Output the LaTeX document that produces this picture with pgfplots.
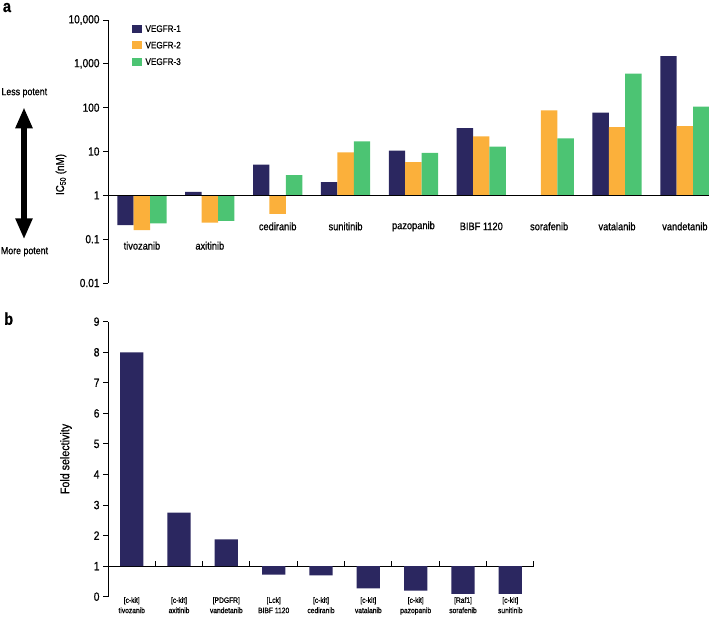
\documentclass[border=0pt]{standalone}
\usepackage{pgfplots}
\pgfplotsset{compat=1.18}
\usepackage{fontspec}
\setmainfont{Liberation Sans}[FakeStretch=0.86, FakeBold=0.8]
\usetikzlibrary{arrows.meta}
\definecolor{vone}{HTML}{2B2760}
\definecolor{vtwo}{HTML}{FBB03B}
\definecolor{vthree}{HTML}{4CC473}

\pgfplotsset{
  sq legend/.style={legend image code/.code={\fill[##1,draw=none] (0bp,-4bp) rectangle (10bp,4bp);}},
}

\begin{document}
\begin{tikzpicture}
\path[use as bounding box] (0,0) rectangle (709bp,-617bp);

% ---- panel a: IC50 per receptor, log scale, bars from 1
\begin{axis}[
  at={(108bp,-283bp)}, anchor=south west,
  scale only axis, width=601bp, height=263bp,
  clip=false,
  ymode=log, log origin=0,
  ymin=0.01, ymax=10000,
  xmin=-0.5, xmax=8.355,
  axis y line=left, axis x line=none,
  axis line style={-, line width=1bp},
  xtick=\empty,
  ytick={0.01,0.1,1,10,100,1000,10000},
  yticklabels={0.01,0.1,1,10,100,{1,000},{10,000}},
  yminorticks=false,
  tick align=outside, major tick length=5bp,
  ytick style={line width=1bp, black},
  tick label style={font=\fontsize{11.8}{11.8}\selectfont},
  /pgf/number format/assume math mode=true,
  ybar=0pt, bar width=0.2416,
  legend style={at={(0.0404,0.982)}, anchor=north west, draw=none, fill=none,
    font=\fontsize{9.5}{9.5}\selectfont, inner sep=0pt, row sep=8.5bp, column sep=3bp,
    nodes={inner sep=0pt, text height=7bp, text depth=1bp}},
  legend cell align=left,
]
\addplot[fill=vone, draw=none, sq legend] coordinates {(0,0.21) (1,1.2) (2,5) (3,2) (4,10.5) (5,34) (7,77) (8,1500)};
\addplot[fill=vtwo, draw=none, sq legend] coordinates {(0,0.16) (1,0.24) (2,0.38) (3,9.5) (4,5.7) (5,22) (6,87) (7,36) (8,38)};
\addplot[fill=vthree, draw=none, sq legend] coordinates {(0,0.23) (1,0.26) (2,2.9) (3,17) (4,9.3) (5,13) (6,20) (7,600) (8,105)};
\legend{VEGFR-1, VEGFR-2, VEGFR-3}
\draw[line width=1bp] (axis cs:-0.5,1) -- (axis cs:8.355,1);
\begin{scope}[every node/.style={font=\fontsize{10.8}{10.8}\selectfont}]
\node at (axis cs:0,0.071) {tivozanib};
\node at (axis cs:1,0.071) {axitinib};
\node at (axis cs:2,0.196) {cediranib};
\node at (axis cs:3,0.196) {sunitinib};
\node at (axis cs:4,0.196) {pazopanib};
\node at (axis cs:5,0.196) {BIBF 1120};
\node at (axis cs:6,0.196) {sorafenib};
\node at (axis cs:7,0.196) {vatalanib};
\node at (axis cs:8,0.196) {vandetanib};
\end{scope}
\end{axis}

\node[font=\fontsize{17}{17}\selectfont\bfseries, inner sep=0pt] at (7bp,-7.5bp) {a};
\node[rotate=90, font=\fontsize{11.5}{11.5}\selectfont] at (61bp,-174.5bp) {IC\textsubscript{50} (nM)};
\node[font=\fontsize{10.3}{10.3}\selectfont] at (24.3bp,-92.7bp) {Less potent};
\node[font=\fontsize{10.3}{10.3}\selectfont] at (24.5bp,-251.7bp) {More potent};
\draw[line width=6bp, {Triangle[width=16bp,length=21bp]}-{Triangle[width=16bp,length=21bp]}]
  (24bp,-107.3bp) -- (24bp,-239.3bp);

% ---- panel b: fold selectivity, bars from 1
\begin{axis}[
  at={(108bp,-596.7bp)}, anchor=south west,
  scale only axis, width=426bp, height=275bp,
  clip=false,
  xmin=-0.5, xmax=8.5,
  ymin=-1, ymax=8,
  y filter/.expression={y-1},
  axis y line=left, axis x line=middle,
  axis line style={-, line width=1bp},
  xtick=\empty,
  ytick={-1,0,...,8},
  yticklabels={0,1,2,3,4,5,6,7,8,9},
  ytick align=outside, major tick length=5bp,
  tick style={line width=1bp, black},
  tick label style={font=\fontsize{12}{12}\selectfont},
  ybar, bar width=0.49,
]
\addplot[fill=vone, draw=none] coordinates {(0,8.0) (1,2.75) (2,1.88) (3,0.72) (4,0.7) (5,0.27) (6,0.2) (7,0.09) (8,0.09)};
% short upward ticks between categories on the baseline
\pgfplotsinvokeforeach{0.5,1.5,2.5,3.5,4.5,5.5,6.5,7.5,8.5}{
  \draw[line width=1bp] (axis cs:#1,0) -- ++(0pt,5bp);
}
\end{axis}

\begin{scope}[every node/.style={font=\fontsize{7.8}{10.3}\selectfont, align=center, anchor=north, inner sep=0pt}]
\node at (131.7bp,-597bp) {[c-kit]\\tivozanib};
\node at (179.0bp,-597bp) {[c-kit]\\axitinib};
\node at (226.3bp,-597bp) {[PDGFR]\\vandetanib};
\node at (273.7bp,-597bp) {[Lck]\\BIBF 1120};
\node at (321.0bp,-597bp) {[c-kit]\\cediranib};
\node at (368.3bp,-597bp) {[c-kit]\\vatalanib};
\node at (415.7bp,-597bp) {[c-kit]\\pazopanib};
\node at (463.0bp,-597bp) {[Raf1]\\sorafenib};
\node at (510.3bp,-597bp) {[c-kit]\\sunitinib};
\end{scope}
\node[font=\fontsize{17}{17}\selectfont\bfseries, inner sep=0pt] at (8.7bp,-318.7bp) {b};
\node[rotate=90, font=\fontsize{12.5}{12.5}\selectfont] at (66bp,-459bp) {Fold selectivity};
\end{tikzpicture}
\end{document}
